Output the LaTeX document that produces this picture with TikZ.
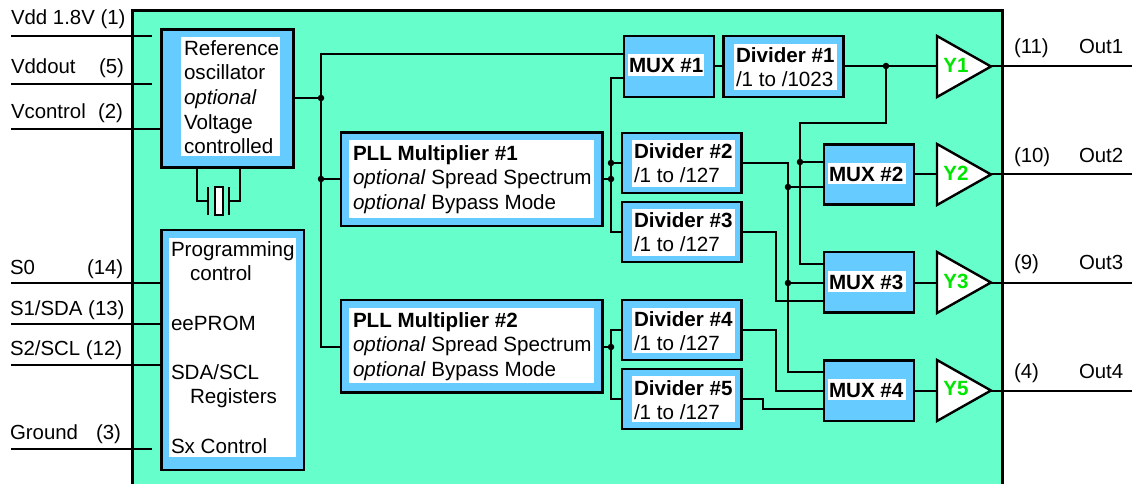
\documentclass[tikz,border=0pt]{standalone}
\usepackage{fontspec}
\setmainfont{Liberation Sans}
\usetikzlibrary{fit}
\definecolor{chipbg}{HTML}{66FFCC}
\definecolor{blockbg}{HTML}{66CCFF}
\definecolor{ampgreen}{HTML}{00E600}
\tikzset{
  x=1pt,y=-1pt,
  blockbox/.style={draw=black,fill=blockbg,line width=2.4pt,inner sep=0pt,outer sep=0pt},
  whitebox/.style={draw=none,fill=white,inner sep=0pt,outer sep=0pt},
  lbl/.style={anchor=north west,inner sep=0pt,outer sep=0pt,align=left,font=\fontsize{20.6}{24.6}\selectfont},
  pinlbl/.style={anchor=base west,inner sep=0pt,outer sep=0pt,font=\fontsize{20.4}{24}\selectfont},
  wire/.style={line width=2pt,line cap=rect,line join=miter},
  dot/.style={circle,fill=black,draw=none,minimum size=6.5pt,inner sep=0pt,outer sep=0pt},
  amp/.style={draw=black,fill=white,line width=2.4pt,line join=miter},
  amplbl/.style={inner sep=0pt,font=\fontsize{20.6}{24}\selectfont\bfseries,text=ampgreen},
}
\newcommand{\blk}[9]{%
  \node[blockbox,fit={(#2,#3)(#4,#5)}] (#1) {};
  \node[whitebox,fit={(#6,#7)(#8,#9)}] (#1w) {};
}
\begin{document}
\begin{tikzpicture}
\useasboundingbox (0,0) rectangle (1132,484);
% chip body
\fill[chipbg] (132.5,10.5) rectangle (1002.5,484);
\draw[line width=2.2pt] (132.5,484) -- (132.5,10.5) -- (1002.5,10.5) -- (1002.5,484);

% blocks
\blk{ref}{161.5}{29.5}{293.5}{167.5}{181.3}{37}{280}{156}
\blk{prog}{161.5}{230}{304}{470}{169}{238}{296}{457}
\blk{pllA}{341}{132.5}{602.5}{226}{349}{140}{594}{218}
\blk{pllB}{341}{300}{602.5}{392.5}{349}{308}{594}{383}
\blk{muxA}{624}{36}{714}{97}{627.7}{54}{703.7}{75.7}
\blk{divA}{723.5}{36}{843.5}{97}{734}{44}{837}{90}
\blk{divB}{622}{133}{741.5}{193}{632.3}{140}{735}{186.7}
\blk{divC}{622}{202}{741.5}{262}{632.3}{209}{735}{255.5}
\blk{divD}{622}{300}{741.5}{360}{632.3}{308}{735}{353}
\blk{divE}{622}{369}{741.5}{429}{632.3}{376}{735}{422}
\blk{muxB}{824}{144.5}{914}{204.5}{827.7}{163}{905.7}{183.5}
\blk{muxC}{824}{252}{914}{312.5}{827.7}{271}{905.7}{292}
\blk{muxD}{824}{360.5}{914}{421}{827.7}{379}{905.7}{400}

% block texts
\node[lbl] (reft) at (184,38) {\strut Reference\\oscillator\\\textit{optional}\\Voltage\\controlled};
\node[lbl] (progt) at (171,239) {\strut Programming\\\hspace*{19pt}control\\ \\eePROM\\ \\SDA/SCL\\\hspace*{19pt}Registers\\ \\Sx Control};
\node[lbl] (pllAt) at (353,143) {\strut\textbf{PLL Multiplier \#1}\\\textit{optional} Spread Spectrum\\\textit{optional} Bypass Mode};
\node[lbl] (pllBt) at (353,310) {\strut\textbf{PLL Multiplier \#2}\\\textit{optional} Spread Spectrum\\\textit{optional} Bypass Mode};
\node[lbl] (muxAt) at (629,55) {\strut\textbf{MUX \#1}};
\node[lbl] (divAt) at (736,45) {\strut\textbf{Divider \#1}\\/1 to /1023};
\node[lbl] (divBt) at (634,141) {\strut\textbf{Divider \#2}\\/1 to /127};
\node[lbl] (divCt) at (634,210) {\strut\textbf{Divider \#3}\\/1 to /127};
\node[lbl] (divDt) at (634,309) {\strut\textbf{Divider \#4}\\/1 to /127};
\node[lbl] (divEt) at (634,378) {\strut\textbf{Divider \#5}\\/1 to /127};
\node[lbl] (muxBt) at (829,164) {\strut\textbf{MUX \#2}};
\node[lbl] (muxCt) at (829,272) {\strut\textbf{MUX \#3}};
\node[lbl] (muxDt) at (829,380) {\strut\textbf{MUX \#4}};

% amplifiers
\coordinate (ampAi) at (937,66); \coordinate (ampAo) at (991,66);
\coordinate (ampBi) at (937,174); \coordinate (ampBo) at (991,174);
\coordinate (ampCi) at (937,283); \coordinate (ampCo) at (991,283);
\coordinate (ampDi) at (937,391); \coordinate (ampDo) at (991,391);
\draw[amp] (937,36) -- (991,66.5) -- (937,97) -- cycle;
\draw[amp] (937,144) -- (991,174.5) -- (937,205) -- cycle;
\draw[amp] (937,252) -- (991,282.5) -- (937,313) -- cycle;
\draw[amp] (937,360) -- (991,390.5) -- (937,421) -- cycle;
\node[amplbl] (ampAt) at (956,65) {Y1};
\node[amplbl] (ampBt) at (956,173) {Y2};
\node[amplbl] (ampCt) at (956,281) {Y3};
\node[amplbl] (ampDt) at (956,389) {Y5};

% input pins
\coordinate (pVdd) at (11,36); \coordinate (pVddE) at (152,36);
\coordinate (pOut) at (11,84); \coordinate (pOutE) at (152,84);
\coordinate (pCtl) at (11,129);
\coordinate (pSa) at (11,283);
\coordinate (pSb) at (11,324);
\coordinate (pSc) at (11,365);
\coordinate (pGnd) at (11,449); \coordinate (pGndE) at (152,449);
\draw[wire,line cap=butt] (pVdd) -- (pVddE);
\draw[wire,line cap=butt] (pOut) -- (pOutE);
\draw[wire,line cap=butt] (pCtl) -- (ref.west |- pCtl);
\draw[wire,line cap=butt] (pSa) -- (prog.west |- pSa);
\draw[wire,line cap=butt] (pSb) -- (prog.west |- pSb);
\draw[wire,line cap=butt] (pSc) -- (prog.west |- pSc);
\draw[wire,line cap=butt] (pGnd) -- (pGndE);

\node[pinlbl] (lVdd) at (11,25) {Vdd 1.8V (1)};
\node[pinlbl] (lOut) at (11,74) {Vddout};
\node[pinlbl] (lOutN) at (99,74) {(5)};
\node[pinlbl] (lCtl) at (11,119) {Vcontrol};
\node[pinlbl] (lCtlN) at (98,119) {(2)};
\node[pinlbl] (lSa) at (10,274) {S0};
\node[pinlbl] (lSaN) at (87,274) {(14)};
\node[pinlbl] (lSb) at (10,315) {S1/SDA (13)};
\node[pinlbl] (lSc) at (10,355) {S2/SCL (12)};
\node[pinlbl] (lGnd) at (10,439) {Ground};
\node[pinlbl] (lGndN) at (96,439) {(3)};

% output pins
\coordinate (qA) at (1132,66); \coordinate (qB) at (1132,174);
\coordinate (qC) at (1132,283); \coordinate (qD) at (1132,391);
\draw[wire,line cap=butt] (ampAo) -- (qA);
\draw[wire,line cap=butt] (ampBo) -- (qB);
\draw[wire,line cap=butt] (ampCo) -- (qC);
\draw[wire,line cap=butt] (ampDo) -- (qD);
\node[pinlbl] (oAn) at (1014,54) {(11)};
\node[pinlbl] (oA) at (1079,54) {Out1};
\node[pinlbl] (oBn) at (1014,162) {(10)};
\node[pinlbl] (oB) at (1079,162) {Out2};
\node[pinlbl] (oCn) at (1014,269) {(9)};
\node[pinlbl] (oC) at (1079,269) {Out3};
\node[pinlbl] (oDn) at (1014,378) {(4)};
\node[pinlbl] (oD) at (1079,378) {Out4};

% crystal
\coordinate (xa) at (197,168); \coordinate (xb) at (240,168);
\coordinate (xl) at (208,201); \coordinate (xr) at (229,201);
\draw[wire] (xa) -- (xa |- xl) -- (xl);
\draw[wire] (xb) -- (xb |- xr) -- (xr);
\draw[wire] (208,188) -- (208,214);
\draw[wire] (229,188) -- (229,214);
\node[draw=black,fill=white,line width=2pt,inner sep=0pt,outer sep=0pt,fit={(215,187)(223,215)}] (xtal) {};

% junctions
\coordinate (busTop) at (321,54);
\node[dot] (jRef) at (321,98) {};
\node[dot] (jPllA) at (321,179) {};
\coordinate (busBot) at (321,347);
\node[dot] (jDivB) at (611,163) {};
\node[dot] (jPllAo) at (611,179) {};
\node[dot] (jPllBo) at (611,347) {};
\node[dot] (jDivA) at (886,66) {};
\node[dot] (jMuxBa) at (800,162) {};
\node[dot] (jMuxBb) at (788,187) {};
\node[dot] (jMuxCb) at (788,283) {};

% connectors
\draw[wire,line cap=butt] (ref.east |- jRef) -- (jRef);
\draw[wire] (muxA.west |- busTop) -- (busTop) -- (busBot) -- (pllB.west |- busBot);
\draw[wire,line cap=butt] (jPllA) -- (pllA.west |- jPllA);
\draw[wire,line cap=butt] (pllA.east |- jPllAo) -- (jPllAo);
\draw[wire,line cap=butt] (jDivB) -- (divB.west |- jDivB);
\draw[wire] (muxA.west |- 0,78) -- (611,78) -- (611,232) -- (divC.west |- 0,232);
\draw[wire,line cap=butt] (pllB.east |- jPllBo) -- (jPllBo);
\draw[wire] (divD.west |- 0,330) -- (611,330) -- (611,399) -- (divE.west |- 0,399);
\draw[wire,line cap=butt] (muxA.east |- 0,66) -- (divA.west |- 0,66);
\draw[wire,line cap=butt] (divA.east |- ampAi) -- (ampAi);
\draw[wire] (jDivA) -- (886,123) -- (800,123) -- (800,264) -- (muxC.west |- 0,264);
\draw[wire,line cap=butt] (jMuxBa) -- (muxB.west |- jMuxBa);
\draw[wire] (divB.east |- 0,163) -- (788,163) -- (788,372) -- (muxD.west |- 0,372);
\draw[wire,line cap=butt] (jMuxBb) -- (muxB.west |- jMuxBb);
\draw[wire,line cap=butt] (jMuxCb) -- (muxC.west |- jMuxCb);
\draw[wire] (divC.east |- 0,232) -- (776,232) -- (776,301) -- (muxC.west |- 0,301);
\draw[wire] (divD.east |- 0,330) -- (776,330) -- (776,391) -- (muxD.west |- 0,391);
\draw[wire] (divE.east |- 0,399) -- (763,399) -- (763,409) -- (muxD.west |- 0,409);
\draw[wire,line cap=butt] (muxB.east |- ampBi) -- (ampBi);
\draw[wire,line cap=butt] (muxC.east |- ampCi) -- (ampCi);
\draw[wire,line cap=butt] (muxD.east |- ampDi) -- (ampDi);
\end{tikzpicture}
\end{document}
